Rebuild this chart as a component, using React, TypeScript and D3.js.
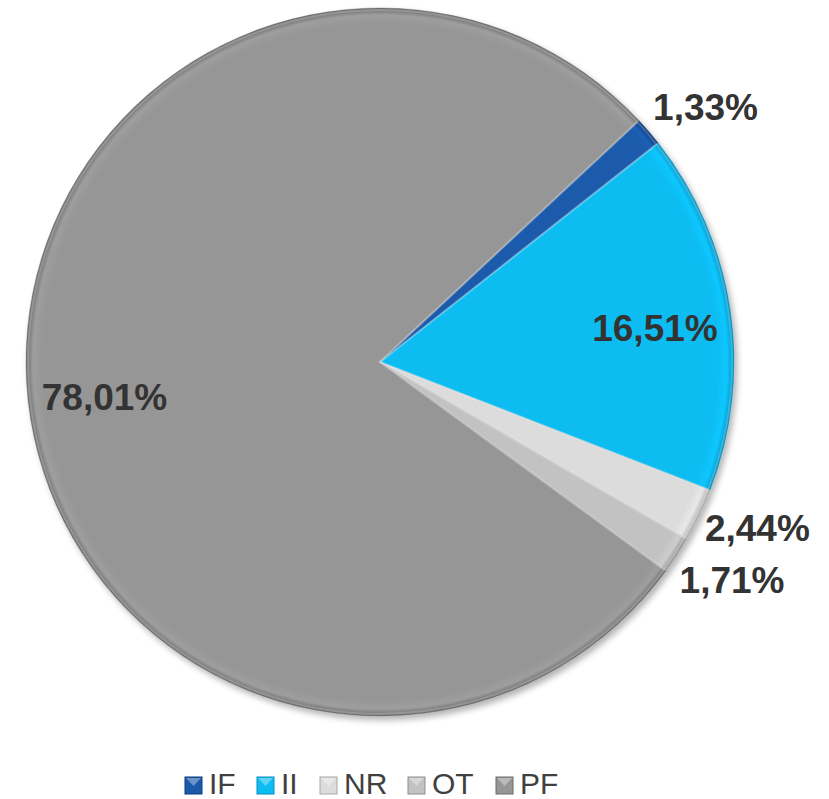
import { useEffect, useRef } from "react";
import * as d3 from "d3";

const categories = ["IF", "II", "NR", "OT", "PF"];
const shares = [1.33, 16.51, 2.44, 1.71, 78.01];
const colors = ["#1b5aab", "#0bbdf2", "#dcdcdc", "#c2c2c2", "#969696"];
const darkColors = ["#0e3a78", "#0690bf", "#a8a8a8", "#8e8e8e", "#6a6a6a"];
// labels drawn outside the pie for the small slices
const outside = [true, false, true, true, false];
// small label nudges, px
const nudge = [
  [12, 14],
  [1, 7],
  [5, -12],
  [6, -7],
  [1, 19],
];

const W = 829;
const H = 799;

export default function App() {
  const ref = useRef<SVGSVGElement>(null);

  useEffect(() => {
    if (!ref.current) return;
    const svg = d3.select(ref.current);
    svg.selectAll("*").remove();

    const cx = 380,
      cy = 362,
      r = 354;
    const start = (47 * Math.PI) / 180;

    const data = categories.map((c, i) => ({ name: c, value: shares[i], i }));
    const pie = d3
      .pie<any>()
      .sort(null)
      .value((d) => d.value)
      .startAngle(start)
      .endAngle(start + 2 * Math.PI);
    const arcs = pie(data);
    const arc = d3.arc<any>().innerRadius(0).outerRadius(r);

    const defs = svg.append("defs");
    const shadow = defs
      .append("filter")
      .attr("id", "shadow")
      .attr("x", "-10%")
      .attr("y", "-10%")
      .attr("width", "120%")
      .attr("height", "120%");
    shadow.append("feGaussianBlur").attr("in", "SourceAlpha").attr("stdDeviation", 3);
    shadow.append("feOffset").attr("dx", 3).attr("dy", 4);
    shadow.append("feComponentTransfer").append("feFuncA").attr("type", "linear").attr("slope", 0.3);
    const merge = shadow.append("feMerge");
    merge.append("feMergeNode");
    merge.append("feMergeNode").attr("in", "SourceGraphic");

    colors.forEach((c, i) => {
      const gr = defs
        .append("radialGradient")
        .attr("id", "grad" + i)
        .attr("gradientUnits", "userSpaceOnUse")
        .attr("cx", 0)
        .attr("cy", 0)
        .attr("r", r);
      gr.append("stop").attr("offset", "0%").attr("stop-color", c);
      gr.append("stop").attr("offset", "95.5%").attr("stop-color", c);
      gr.append("stop").attr("offset", "98%").attr("stop-color", d3.color(c)!.brighter(0.15).formatHex());
      gr.append("stop").attr("offset", "100%").attr("stop-color", darkColors[i]);
    });

    const g = svg.append("g").attr("transform", `translate(${cx},${cy})`);
    const pieG = g.append("g").attr("filter", "url(#shadow)");

    pieG
      .selectAll("path.slice")
      .data(arcs)
      .enter()
      .append("path")
      .attr("class", "slice")
      .attr("d", arc as any)
      .attr("fill", (d: any) => `url(#grad${d.data.i})`)
      .attr("stroke", (d: any) => darkColors[d.data.i])
      .attr("stroke-opacity", 0.4)
      .attr("stroke-width", 1);

    // soft bevel highlight along slice edges
    pieG
      .selectAll("path.bevel")
      .data(arcs)
      .enter()
      .append("path")
      .attr("class", "bevel")
      .attr("d", d3.arc<any>().innerRadius(0).outerRadius(r - 2) as any)
      .attr("fill", "none")
      .attr("stroke", "#ffffff")
      .attr("stroke-opacity", 0.2)
      .attr("stroke-width", 2);

    const labelPos = (d: any) => {
      const rr = outside[d.data.i] ? 413 : 277;
      const p = d3.arc<any>().innerRadius(rr).outerRadius(rr).centroid(d);
      return [p[0] + nudge[d.data.i][0], p[1] + nudge[d.data.i][1]];
    };

    g.selectAll("text.lbl")
      .data(arcs)
      .enter()
      .append("text")
      .attr("class", "lbl")
      .attr("x", (d: any) => labelPos(d)[0])
      .attr("y", (d: any) => labelPos(d)[1])
      .attr("text-anchor", "middle")
      .attr("dominant-baseline", "central")
      .attr("font-family", "Liberation Sans, Arial, sans-serif")
      .attr("font-weight", "bold")
      .attr("font-size", 37)
      .attr("fill", "#333333")
      .text((d: any) => d.data.value.toFixed(2).replace(".", ",") + "%");

    // legend
    const legendX = [185, 257, 320, 408, 496];
    const items = svg
      .append("g")
      .selectAll("g")
      .data(data)
      .enter()
      .append("g")
      .attr("transform", (d: any, i: number) => `translate(${legendX[i]},777)`);
    items
      .append("rect")
      .attr("width", 17)
      .attr("height", 17)
      .attr("fill", (d: any) => colors[d.i])
      .attr("stroke", (d: any) => darkColors[d.i])
      .attr("stroke-width", 1);
    items
      .append("path")
      .attr("d", "M1,1 L16,1 L8.5,9 Z")
      .attr("fill", "#ffffff")
      .attr("fill-opacity", 0.35);
    items
      .append("text")
      .attr("x", 24)
      .attr("y", 17)
      .attr("font-family", "Liberation Sans, Arial, sans-serif")
      .attr("font-size", 30)
      .attr("fill", "#404040")
      .text((d: any) => d.name);
  }, []);

  return (
    <svg
      ref={ref}
      width={W}
      height={H}
      style={{ position: "absolute", left: 0, top: 0, background: "#ffffff" }}
    />
  );
}
